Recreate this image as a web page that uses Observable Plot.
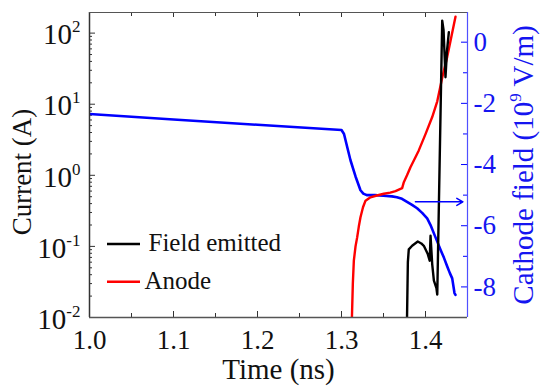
<!DOCTYPE html>
<html><head><meta charset="utf-8">
<script src="https://cdn.jsdelivr.net/npm/d3@7"></script>
<script src="https://cdn.jsdelivr.net/npm/@observablehq/plot@0.6"></script>
<style>body{margin:0;background:#fff}</style>
</head><body><div id="chart"></div>
<script>
// ---- data ----
const fieldTime  = [1.000, 1.100, 1.200, 1.300, 1.3030, 1.3070, 1.3107, 1.3167, 1.3226, 1.3260, 1.3300, 1.3400, 1.3500, 1.3600, 1.3660, 1.3720, 1.3780, 1.3840, 1.3900, 1.3960, 1.4020, 1.4060, 1.4100, 1.4140, 1.4180, 1.4220, 1.4260, 1.4290, 1.4318, 1.4345, 1.4357];
const fieldValue = [-2.35, -2.53, -2.70, -2.87, -3.00, -3.45, -3.86, -4.39, -4.84, -4.95, -5.00, -5.00, -5.02, -5.04, -5.07, -5.12, -5.22, -5.32, -5.43, -5.58, -5.76, -5.98, -6.25, -6.52, -6.79, -7.05, -7.34, -7.55, -7.72, -8.20, -8.26];

const anodeTime    = [1.3115, 1.3135, 1.3147, 1.3167, 1.3187, 1.3206, 1.3226, 1.3256, 1.3286, 1.3345, 1.3420, 1.3504, 1.3580, 1.3643, 1.3722, 1.3742, 1.3780, 1.3821, 1.3870, 1.3920, 1.4000, 1.4080, 1.4140, 1.4200, 1.4258, 1.4300, 1.4357];
const anodeCurrent = [0.004, 0.03, 0.063, 0.10, 0.135, 0.19, 0.257, 0.355, 0.44, 0.49, 0.52, 0.55, 0.57, 0.60, 0.66, 0.80, 1.0, 1.30, 1.7, 2.24, 3.8, 6.6, 11, 24, 46, 80, 170];

const emitTime    = [1.3775, 1.3790, 1.3801, 1.3841, 1.3908, 1.3950, 1.3980, 1.4027, 1.4050, 1.4060, 1.4080, 1.4100, 1.4130, 1.4140, 1.4199, 1.4215, 1.4238, 1.4255, 1.4278];
const emitCurrent = [0.004, 0.06, 0.091, 0.102, 0.117, 0.110, 0.102, 0.078, 0.063, 0.141, 0.056, 0.033, 0.026, 0.021, 150, 110, 24, 55, 103];

const xTicks = [1.0, 1.1, 1.2, 1.3, 1.4];
const xMinorTicks = [1.05, 1.15, 1.25, 1.35, 1.45];
const yTicks = [0.01, 0.1, 1, 10, 100];
const yTickLabels = ["10^{-2}", "10^{-1}", "10^{0}", "10^{1}", "10^{2}"];
const fieldTicks = [0, -2, -4, -6, -8];
const fieldTickLabels = ["0", "-2", "-4", "-6", "-8"];
const fieldMinorTicks = [-1, -3, -5, -7];
const arrowTime = [1.388, 1.4445];
const arrowField = -5.22;
const legendLabels = ["Field emitted", "Anode"];
const legendColors = ["#000000", "#ff0000"];

// ---- scales ----
const xDomain = [1.0, 1.45];
const logBottom = -2, logTop = 2.29;
const fieldDomain = [-9, 0.97];
const toY = v => Math.pow(10, logBottom + (v - fieldDomain[0]) / (fieldDomain[1] - fieldDomain[0]) * (logTop - logBottom));

const W = 550, H = 392, mL = 89, mR = 83, mT = 12, mB = 75;
const pW = W - mL - mR, pH = H - mT - mB;
const blue = "#0000ff", blueText = "#1515f0";

const fieldData = fieldTime.map((t, i) => ({t, v: fieldValue[i]}));
const anodeData = anodeTime.map((t, i) => ({t, c: anodeCurrent[i]}));
const emitData = emitTime.map((t, i) => ({t, c: emitCurrent[i]}));
const yMinor = [];
for (let e = -2; e < 3; e++) for (let k = 2; k <= 9; k++) { const v = k * Math.pow(10, e); if (v < Math.pow(10, logTop)) yMinor.push(v); }

const font = '"Liberation Serif", "Times New Roman", serif';
const txt = {lineAnchor: "middle"};

const plot = Plot.plot({
  width: W, height: H, marginLeft: mL, marginRight: mR, marginTop: mT, marginBottom: mB,
  style: {fontFamily: font, background: "white", overflow: "visible"},
  x: {domain: xDomain, axis: null},
  y: {type: "log", domain: [Math.pow(10, logBottom), Math.pow(10, logTop)], axis: null},
  marks: [
    // ticks (inward)
    Plot.tickX(xTicks, {x: d => d, insetTop: pH - 6, stroke: "#333"}),
    Plot.tickX(xTicks, {x: d => d, insetBottom: pH - 5, stroke: "#333"}),
    Plot.tickX(xMinorTicks, {x: d => d, insetTop: pH - 4, stroke: "#333"}),
    Plot.tickX(xMinorTicks, {x: d => d, insetBottom: pH - 4, stroke: "#333"}),
    Plot.tickY(yTicks, {y: d => d, insetRight: pW - 6, stroke: "#333"}),
    Plot.tickY(yMinor, {y: d => d, insetRight: pW - 3, stroke: "#333"}),
    Plot.tickY(fieldTicks, {y: toY, insetLeft: pW - 6, stroke: blue}),
    Plot.tickY(fieldMinorTicks, {y: toY, insetLeft: pW - 4, stroke: blue}),
    // data lines
    Plot.line(fieldData, {x: "t", y: d => toY(d.v), stroke: blue, strokeWidth: 2.6, clip: true}),
    Plot.line(anodeData, {x: "t", y: "c", stroke: "#ff0000", strokeWidth: 2.4, clip: true}),
    Plot.line(emitData, {x: "t", y: "c", stroke: "#000", strokeWidth: 2.4, clip: true}),
    // arrow
    Plot.arrow([arrowField], {x1: arrowTime[0], x2: arrowTime[1], y1: toY, y2: toY, stroke: blue, strokeWidth: 1.5, headLength: 7}),
    // frame
    Plot.ruleX([xDomain[0]], {stroke: "#333", strokeWidth: 1.5}),
    Plot.ruleY([Math.pow(10, logBottom)], {stroke: "#555", strokeWidth: 1.5}),
    Plot.ruleY([Math.pow(10, logTop)], {stroke: "#555", strokeWidth: 1.2}),
    Plot.ruleX([xDomain[1]], {stroke: "#5050ff", strokeWidth: 1.2}),
    // tick labels
    Plot.text(xTicks, {...txt, x: d => d, frameAnchor: "bottom", dy: 23, textAnchor: "middle", fontSize: 27, fill: "#111", text: d => d.toFixed(1)}),
    Plot.text(yTicks, {...txt, y: d => d, frameAnchor: "left", dx: -9, dy: 2, textAnchor: "end", fontSize: 29, fill: "#111", text: (d, i) => yTickLabels[i]}),
    Plot.text(fieldTicks, {...txt, y: toY, frameAnchor: "right", dx: 6, textAnchor: "start", fontSize: 27, fill: blueText, text: (d, i) => fieldTickLabels[i]}),
    // axis titles
    Plot.text(["Time (ns)"], {...txt, frameAnchor: "bottom", dy: 52, textAnchor: "middle", fontSize: 29, fill: "#111", text: d => d}),
    Plot.text(["Current (A)"], {...txt, frameAnchor: "left", dx: -67, dy: 7, textAnchor: "middle", rotate: -90, fontSize: 27, fill: "#111", text: d => d}),
    Plot.text(["Cathode field (10^{9} V/m)"], {...txt, frameAnchor: "right", dx: 56, dy: 0, textAnchor: "middle", rotate: -90, fontSize: 29, fill: blueText, text: d => d}),
    // legend labels
    Plot.text([legendLabels[0]], {...txt, frameAnchor: "top-left", dx: 59, dy: 230, textAnchor: "start", fontSize: 25, fill: "#111", text: d => d}),
    Plot.text([legendLabels[1]], {...txt, frameAnchor: "top-left", dx: 55, dy: 268, textAnchor: "start", fontSize: 25, fill: "#111", text: d => d}),
    // legend swatches
    (index, scales, values, dims) => {
      const g = d3.create("svg:g");
      legendColors.forEach((c, i) => {
        const y = dims.marginTop + 232 + i * 37.7;
        g.append("line").attr("x1", dims.marginLeft + 18).attr("x2", dims.marginLeft + 51)
          .attr("y1", y).attr("y2", y).attr("stroke", c).attr("stroke-width", 2.6);
      });
      return g.node();
    }
  ]
});

// superscripts: "^{...}"
d3.select(plot).selectAll("text").each(function () {
  const s = this.textContent;
  if (!s.includes("^{")) return;
  const parts = s.split(/\^\{([^}]*)\}/);
  while (this.firstChild) this.removeChild(this.firstChild);
  const fsAttr = this.closest("[font-size]");
  const fs = fsAttr ? parseFloat(fsAttr.getAttribute("font-size")) : 28;
  const shift = Math.round(fs * 0.42);
  let raised = false;
  parts.forEach((p, i) => {
    if (p === "") return;
    const ts = document.createElementNS("http://www.w3.org/2000/svg", "tspan");
    ts.textContent = p;
    if (i % 2 === 1) {
      ts.setAttribute("font-size", Math.round(fs * 0.6));
      ts.setAttribute("dy", -shift);
      raised = true;
    } else if (raised) {
      ts.setAttribute("dy", shift);
      raised = false;
    }
    this.appendChild(ts);
  });
});

document.getElementById("chart").appendChild(plot);
</script>
</body></html>
